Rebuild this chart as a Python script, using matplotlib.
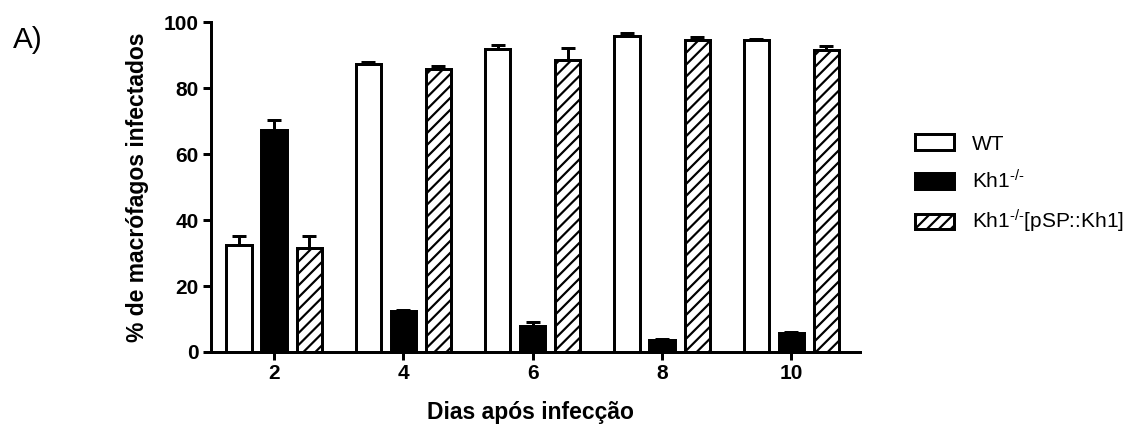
import matplotlib
matplotlib.use("Agg")
import matplotlib.pyplot as plt
import numpy as np

plt.rcParams['font.family'] = ['Liberation Sans', 'DejaVu Sans']
plt.rcParams['mathtext.fontset'] = 'custom'
plt.rcParams['mathtext.rm'] = 'Liberation Sans'
plt.rcParams['mathtext.it'] = 'Liberation Sans'
plt.rcParams['hatch.linewidth'] = 1.1

dias = ['2', '4', '6', '8', '10']
wt = [32.5, 87.5, 92.0, 96.0, 94.7]
wt_err = [2.6, 0.5, 1.0, 0.7, 0.4]
kh1 = [67.5, 12.3, 8.0, 3.5, 5.7]
kh1_err = [2.8, 0.5, 1.2, 0.5, 0.5]
comp = [31.5, 86.0, 88.5, 94.7, 91.5]
comp_err = [3.6, 0.8, 3.6, 1.0, 1.2]

labels = ['WT', r'Kh1$^{\text{-/-}}$', r'Kh1$^{\text{-/-}}$[pSP::Kh1]']

dpi = 143
fig = plt.figure(figsize=(1144 / dpi, 428 / dpi), dpi=dpi)
ax = fig.add_axes([0.1842, 0.1776, 0.5675, 0.770])

x = np.arange(len(dias))
w = 0.195
off = 0.271
lw = 1.5
err_kw = dict(ecolor='black', elinewidth=lw, capsize=3.3, capthick=lw)

series = [(wt, wt_err, 'white', ''), (kh1, kh1_err, 'black', ''), (comp, comp_err, 'white', '////')]
for i, (vals, errs, fc, hatch) in enumerate(series):
    yerr = [np.zeros(len(errs)), errs]
    ax.bar(x + (i - 1) * off, vals, w, yerr=yerr, color=fc, edgecolor='black',
           linewidth=lw, hatch=hatch, label=labels[i], error_kw=err_kw)

ax.set_xlim(-0.49, 4.53)
ax.set_ylim(0, 100)
ax.set_yticks([0, 20, 40, 60, 80, 100])
ax.set_xticks(x)
ax.set_xticklabels(dias)
for s in ['top', 'right']:
    ax.spines[s].set_visible(False)
for s in ['left', 'bottom']:
    ax.spines[s].set_linewidth(lw)
ax.tick_params(width=lw, length=4, labelsize=10.5, pad=2)
for t in ax.get_xticklabels() + ax.get_yticklabels():
    t.set_fontweight('bold')

ax.set_xlabel('Dias após infecção', fontsize=11.5, fontweight='bold')
ax.xaxis.set_label_coords(0.492, -0.15)
ax.set_ylabel('% de macrófagos infectados', fontsize=11.5, fontweight='bold')
ax.yaxis.set_label_coords(-0.095, 0.5)

fig.legend(loc='upper left', bbox_to_anchor=(0.783, 0.73), frameon=False,
           fontsize=10.5, handlelength=1.9, handleheight=0.8, labelspacing=0.75,
           handletextpad=0.85)

fig.text(0.011, 0.94, 'A)', fontsize=15, va='top', ha='left')

fig.savefig('out.png', dpi=dpi)
